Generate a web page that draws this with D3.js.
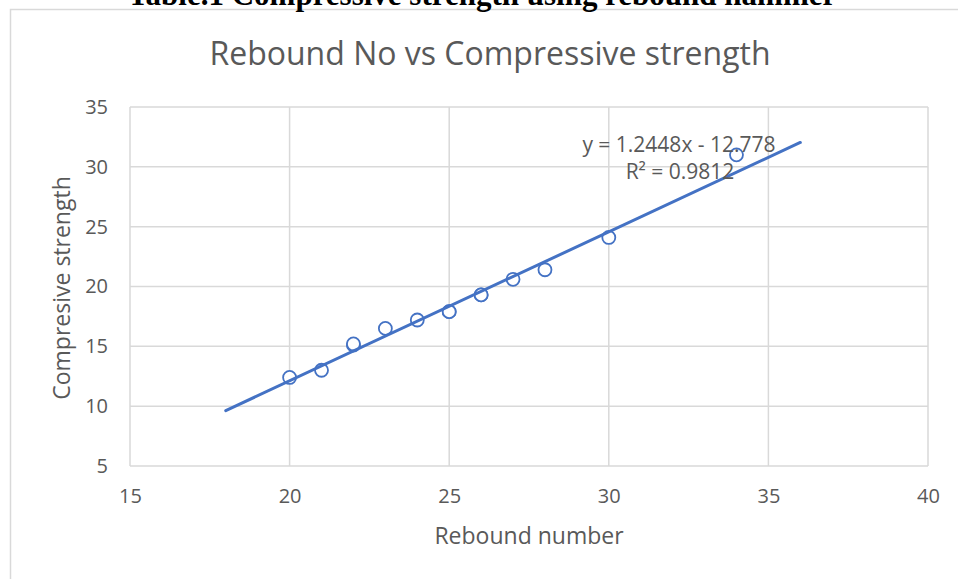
<!DOCTYPE html>
<html>
<head>
<meta charset="utf-8">
<script src="https://cdn.jsdelivr.net/npm/d3@7"></script>
<style>
  body { margin: 0; background: #fff; }
</style>
</head>
<body>
<div id="chart"></div>
<script>
// data
let rebound  = [20, 21, 22, 22, 23, 24, 25, 25, 26, 26, 27, 28, 30, 34]
let strength = [12.4, 13.0, 15.1, 15.2, 16.5, 17.2, 17.9, 17.9, 19.3, 19.3, 20.6, 21.4, 24.1, 31.0]
let xTicks = [15, 20, 25, 30, 35, 40]
let yTicks = [5, 10, 15, 20, 25, 30, 35]
let trendSlope = 1.2448
let trendIntercept = -12.778
let trendRange = [18, 36]
let rSquared = 0.9812

let width = 958, height = 579
let grey = '#595959', grid = '#d9d9d9', blue = '#4472c4'

let svg = d3.select('#chart')
  .append('svg')
  .attr('width', width)
  .attr('height', height)
  .style('font-family', '"Open Sans", sans-serif')

// chart frame
svg.append('rect')
  .attr('x', 10.5).attr('y', 9.5)
  .attr('width', width).attr('height', height)
  .attr('fill', '#fff')
  .attr('stroke', grid)
  .attr('stroke-width', 1.5)

// caption from the document above the chart (cut off in the reference)
svg.append('text')
  .attr('x', 482).attr('y', 5)
  .attr('text-anchor', 'middle')
  .attr('font-family', '"Liberation Serif", serif')
  .attr('font-weight', 'bold')
  .attr('font-size', 31)
  .text('Table.1 Compressive strength using rebound hammer')

let scaleX = d3.scaleLinear().domain([15, 40]).range([130, 928])
let scaleY = d3.scaleLinear().domain([5, 35]).range([466, 107])

// gridlines
svg.append('g')
  .selectAll('line').data(yTicks)
  .join('line')
    .attr('x1', scaleX(15)).attr('x2', scaleX(40))
    .attr('y1', d => scaleY(d)).attr('y2', d => scaleY(d))
    .attr('stroke', grid).attr('stroke-width', 1.5)

svg.append('g')
  .selectAll('line').data(xTicks)
  .join('line')
    .attr('x1', d => scaleX(d)).attr('x2', d => scaleX(d))
    .attr('y1', scaleY(5)).attr('y2', scaleY(35))
    .attr('stroke', grid).attr('stroke-width', 1.5)

// axes (labels only, lines are the gridlines)
svg.append('g')
  .attr('transform', `translate(0, ${scaleY(5)})`)
  .call(d3.axisBottom(scaleX).tickValues(xTicks).tickSize(0).tickPadding(23))
  .call(g => g.select('.domain').remove())
  .call(g => g.selectAll('.tick text')
    .attr('fill', grey)
    .attr('font-size', 20)
    .attr('font-family', '"Open Sans", sans-serif'))

svg.append('g')
  .attr('transform', `translate(${scaleX(15)}, 0)`)
  .call(d3.axisLeft(scaleY).tickValues(yTicks).tickSize(0).tickPadding(22))
  .call(g => g.select('.domain').remove())
  .call(g => g.selectAll('.tick text')
    .attr('fill', grey)
    .attr('font-size', 20)
    .attr('font-family', '"Open Sans", sans-serif'))

// titles
svg.append('text')
  .attr('x', 490).attr('y', 65)
  .attr('text-anchor', 'middle')
  .attr('fill', grey)
  .attr('font-size', 32)
  .text('Rebound No vs Compressive strength')

svg.append('text')
  .attr('x', 529).attr('y', 544)
  .attr('text-anchor', 'middle')
  .attr('fill', grey)
  .attr('font-size', 23)
  .text('Rebound number')

svg.append('text')
  .attr('transform', 'translate(70, 288) rotate(-90)')
  .attr('text-anchor', 'middle')
  .attr('fill', grey)
  .attr('font-size', 23)
  .text('Compresive strength')

// markers
svg.append('g')
  .selectAll('circle').data(d3.zip(rebound, strength))
  .join('circle')
    .attr('cx', d => scaleX(d[0]))
    .attr('cy', d => scaleY(d[1]))
    .attr('r', 6.5)
    .attr('fill', '#fff')
    .attr('stroke', blue)
    .attr('stroke-width', 1.8)

// linear trendline
let trend = d3.line()
  .x(d => scaleX(d))
  .y(d => scaleY(trendSlope * d + trendIntercept))

svg.append('path')
  .datum(trendRange)
  .attr('d', trend)
  .attr('fill', 'none')
  .attr('stroke', blue)
  .attr('stroke-width', 3)
  .attr('stroke-linecap', 'round')

// equation label
let label = svg.append('text')
  .attr('text-anchor', 'middle')
  .attr('fill', grey)
  .attr('font-size', 21)

label.append('tspan')
  .attr('x', 679).attr('y', 152)
  .text(`y = ${trendSlope}x - ${Math.abs(trendIntercept)}`)

label.append('tspan')
  .attr('x', 680).attr('y', 179)
  .text(`R² = ${rSquared}`)
</script>
</body>
</html>
